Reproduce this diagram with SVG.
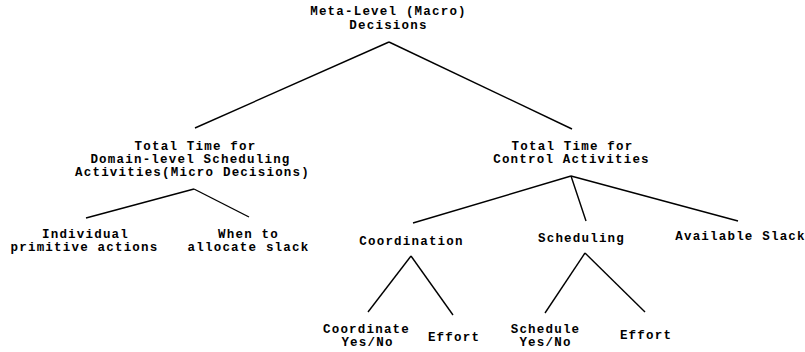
<svg xmlns="http://www.w3.org/2000/svg" width="805" height="352" viewBox="0 0 805 352">
<style>
text{font-family:"Liberation Mono","Courier New",monospace;font-weight:bold;font-size:12.5px;letter-spacing:1.2px;fill:#000;text-anchor:middle}
.c line{stroke:#000;stroke-width:1.4;fill:none}
</style>
<rect width="805" height="352" fill="#fff"/>
<g class="c" id="connectors">
<line x1="389" y1="42" x2="195" y2="128"/>
<line x1="389" y1="42" x2="572" y2="129"/>
<line x1="194" y1="189" x2="86" y2="218"/>
<line x1="194" y1="189" x2="249" y2="217"/>
<line x1="571" y1="176" x2="413" y2="223"/>
<line x1="571" y1="176" x2="586" y2="221"/>
<line x1="571" y1="176" x2="738" y2="221"/>
<line x1="411" y1="256" x2="368" y2="312"/>
<line x1="411" y1="256" x2="453" y2="315"/>
<line x1="585" y1="253" x2="545" y2="313"/>
<line x1="585" y1="253" x2="645" y2="312"/>
</g>
<g id="root"><text x="388.5" y="15">Meta-Level (Macro)</text><text x="388.5" y="29">Decisions</text></g>
<g id="domain"><text x="195.5" y="150">Total Time for</text><text x="190.5" y="163">Domain-level Scheduling</text><text x="192.5" y="176">Activities(Micro Decisions)</text></g>
<g id="control"><text x="572.5" y="150">Total Time for</text><text x="571.5" y="163">Control Activities</text></g>
<g id="individual"><text x="85.5" y="238">Individual</text><text x="84.5" y="251">primitive actions</text></g>
<g id="whento"><text x="248.5" y="238">When to</text><text x="248.5" y="251">allocate slack</text></g>
<g id="coordination"><text x="411.5" y="245">Coordination</text></g>
<g id="scheduling"><text x="581.5" y="242">Scheduling</text></g>
<g id="slack"><text x="740.5" y="240">Available Slack</text></g>
<g id="coordyn"><text x="366.5" y="333">Coordinate</text><text x="367.5" y="346">Yes/No</text></g>
<g id="effort1"><text x="454" y="341">Effort</text></g>
<g id="schedyn"><text x="545.5" y="333">Schedule</text><text x="545.5" y="346">Yes/No</text></g>
<g id="effort2"><text x="646" y="339">Effort</text></g>
</svg>
